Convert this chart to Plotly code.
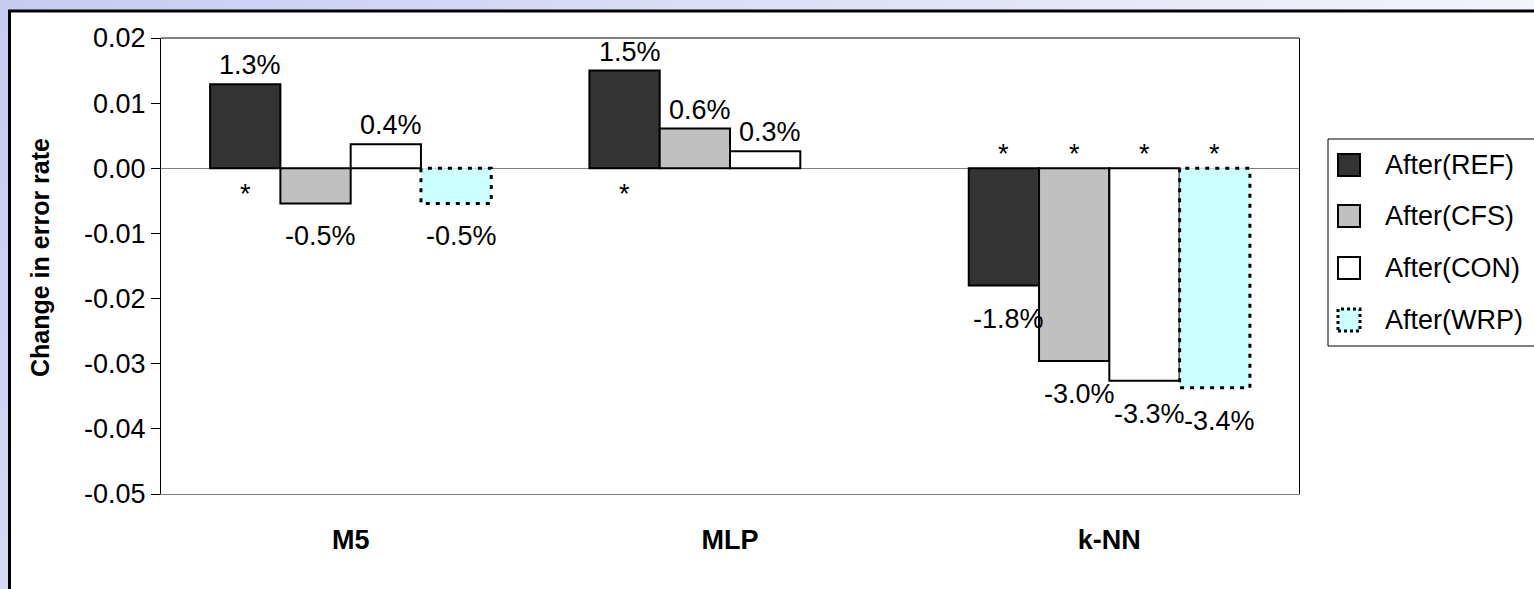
import base64
import plotly.graph_objects as go

# ---- data -------------------------------------------------------------
categories = ["M5", "MLP", "k-NN"]
series_names = ["After(REF)", "After(CFS)", "After(CON)", "After(WRP)"]
ref_vals = [0.0129, 0.0150, -0.0180]
cfs_vals = [-0.0054, 0.0061, -0.0296]
con_vals = [0.0037, 0.0026, -0.0326]
wrp_vals = [-0.0054, None, -0.0337]
# significance flags ("*") for each bar
ref_sig = [True, True, True]
cfs_sig = [False, False, True]
con_sig = [False, False, True]
wrp_sig = [False, False, True]
y_ticks = [0.02, 0.01, 0.00, -0.01, -0.02, -0.03, -0.04, -0.05]

series_vals = [ref_vals, cfs_vals, con_vals, wrp_vals]
series_sig = [ref_sig, cfs_sig, con_sig, wrp_sig]

# ---- styling ----------------------------------------------------------
FONT = "Arial, 'Liberation Sans', sans-serif"
FS = 27
fills = ["#333333", "#C0C0C0", "#FFFFFF", "#CCFFFF"]
dotted = [False, False, False, True]

W, H = 1534, 589
ML, MR, MT, MB = 161, 235, 38, 95
PW, PH = W - ML - MR, H - MT - MB


def px(xp):
    """pixel x -> paper x"""
    return (xp - ML) / PW


def py(yp):
    """pixel y -> paper y"""
    return (H - MB - yp) / PH


bar_w = 0.1853
fig = go.Figure()
annotations = []

for i, (name, vals, sig) in enumerate(zip(series_names, series_vals, series_sig)):
    xs, ys = [], []
    for g, v in enumerate(vals):
        if v is None:
            continue
        xs.append(g + (i - 1.5) * bar_w)
        ys.append(v)
    fig.add_trace(go.Bar(
        x=xs, y=ys, width=bar_w, name=name, showlegend=False,
        marker=dict(color=fills[i],
                    line=dict(color="black", width=0 if dotted[i] else 2)),
        hoverinfo="skip",
    ))
    if dotted[i]:
        for xc, v in zip(xs, ys):
            x0, x1 = xc - bar_w / 2, xc + bar_w / 2
            fig.add_trace(go.Scatter(
                x=[x0, x0, x1, x1, x0], y=[0, v, v, 0, 0], mode="lines",
                line=dict(color="black", width=3, dash="4px,6px"),
                showlegend=False, hoverinfo="skip", cliponaxis=False,
            ))
    # value labels: above positive bars, further below negative ones
    for xc, v in zip(xs, ys):
        annotations.append(dict(
            x=xc, y=v, xref="x", yref="y", text=f"{v * 100:.1f}%",
            showarrow=False, xanchor="center", yanchor="middle",
            xshift=5, yshift=19 if v > 0 else -33,
            font=dict(family=FONT, size=FS, color="black"),
        ))
    # significance asterisks on the opposite side of the zero line
    for g, (v, s) in enumerate(zip(vals, sig)):
        if v is None or not s:
            continue
        annotations.append(dict(
            x=g + (i - 1.5) * bar_w, y=0, xref="x", yref="y", text="*",
            showarrow=False, xanchor="center", yanchor="middle",
            yshift=-26 if v > 0 else 14,
            font=dict(family=FONT, size=FS, color="black"),
        ))

# ---- background: gradient slide + white framed chart area --------------
svg = (
    '<svg xmlns="http://www.w3.org/2000/svg" width="100" height="100" '
    'preserveAspectRatio="none"><defs><linearGradient id="g" x1="0" y1="0" '
    'x2="1" y2="0.35"><stop offset="0" stop-color="#c6cbf0"/>'
    '<stop offset="1" stop-color="#f8f9fd"/></linearGradient></defs>'
    '<rect width="100" height="100" fill="url(#g)"/></svg>'
)
src = "data:image/svg+xml;base64," + base64.b64encode(svg.encode()).decode()

shapes = [
    dict(type="rect", xref="paper", yref="paper", layer="below",
         x0=px(9.5), x1=px(W + 50), y0=py(H + 50), y1=py(11),
         fillcolor="white", line=dict(color="black", width=3)),
    dict(type="line", xref="paper", yref="paper", x0=0, x1=1, y0=1, y1=1,
         line=dict(color="black", width=1)),
    # legend box
    dict(type="rect", xref="paper", yref="paper",
         x0=px(1328), x1=px(W + 40), y0=py(346), y1=py(139),
         fillcolor="white", line=dict(color="black", width=1)),
]

annotations.append(
    dict(text="Change in error rate", xref="paper", yref="paper",
         x=px(40), y=py(258), textangle=-90, showarrow=False,
         xanchor="center", yanchor="middle",
         font=dict(family=FONT, size=FS - 2, color="black", weight="bold")))

# ---- legend drawn as shapes + text --------------------------------------
leg_y = [165, 216, 268, 320]
half = 11
for i, name in enumerate(series_names):
    cy = leg_y[i]
    shapes.append(dict(
        type="rect", xref="paper", yref="paper",
        x0=px(1349 - half), x1=px(1349 + half),
        y0=py(cy + half), y1=py(cy - half),
        fillcolor=fills[i],
        line=dict(color="black",
                  width=3 if dotted[i] else 2,
                  dash="dot" if dotted[i] else "solid"),
    ))
    annotations.append(dict(
        text=name, xref="paper", yref="paper", x=px(1383), y=py(cy),
        xanchor="left", yanchor="middle", showarrow=False,
        font=dict(family=FONT, size=FS, color="black"),
    ))

fig.update_layout(
    width=W, height=H,
    margin=dict(l=ML, r=MR, t=MT, b=MB, pad=0),
    barmode="overlay",
    paper_bgcolor="#e4e6f7", plot_bgcolor="white",
    font=dict(family=FONT, size=FS, color="black"),
    showlegend=False,
    shapes=shapes, annotations=annotations,
    images=[dict(source=src, xref="paper", yref="paper", x=px(0), y=py(0),
                 sizex=W / PW, sizey=H / PH, sizing="stretch",
                 xanchor="left", yanchor="top", layer="below")],
)
fig.update_xaxes(
    range=[-0.5, 2.5], tickvals=list(range(len(categories))),
    ticktext=categories, ticks="", showgrid=False, zeroline=False,
    showline=True, linecolor="#808080", linewidth=1,
    tickfont=dict(family=FONT, size=FS, color="black", weight="bold"),
    ticklabelstandoff=22,
)
fig.update_yaxes(
    range=[-0.05, 0.02], tickvals=y_ticks,
    ticktext=[f"{v:.2f}" for v in y_ticks],
    ticks="outside", ticklen=9, tickcolor="black", tickwidth=1,
    showgrid=False, showline=True, linecolor="black", linewidth=1, mirror=True,
    zeroline=True, zerolinecolor="#808080", zerolinewidth=1,
    tickfont=dict(family=FONT, size=FS, color="black"),
)

fig.write_html("out.html")
